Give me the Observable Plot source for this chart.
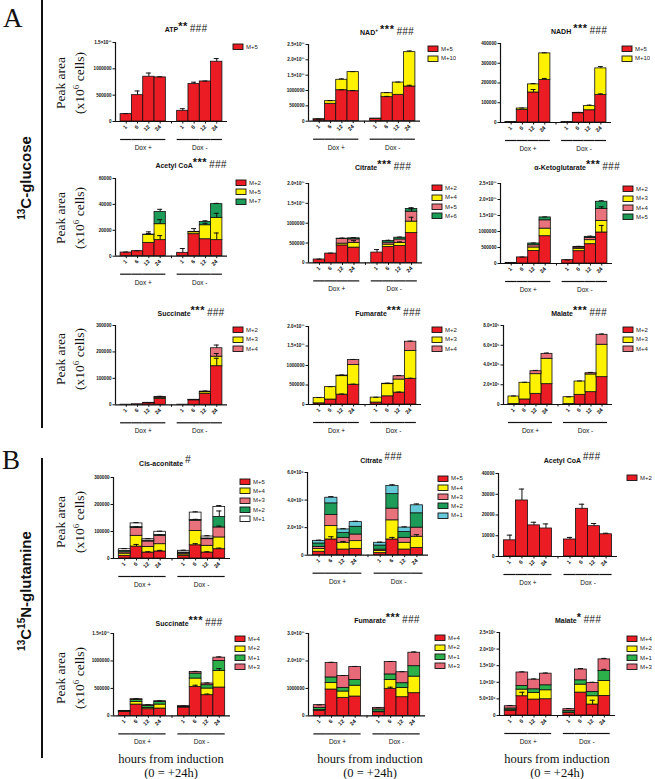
<!DOCTYPE html>
<html>
<head>
<meta charset="utf-8">
<script src="https://cdn.jsdelivr.net/npm/d3@7"></script>
<script src="https://cdn.jsdelivr.net/npm/@observablehq/plot@0.6"></script>
<style>
  html,body{margin:0;padding:0;background:#fff;}
  #fig{position:relative;width:655px;height:779px;overflow:hidden;background:#fff;font-family:"Liberation Sans",Arial,sans-serif;}
  .title{position:absolute;width:220px;text-align:center;font-size:7px;font-weight:bold;white-space:nowrap;line-height:12px;color:#111;}
  .title .st{font-size:11px;position:relative;top:-2px;letter-spacing:0.5px;}
  .title .hs{font-size:10px;font-style:italic;font-weight:normal;letter-spacing:0.3px;}
  .title sup{font-size:5px;}
  .ylab{position:absolute;transform:translate(-50%,-50%) rotate(-90deg);font-family:"Liberation Serif","Times New Roman",serif;font-size:13.5px;line-height:15.5px;text-align:center;white-space:nowrap;color:#111;}
  .ylab sup{font-size:9px;}
  .sect{position:absolute;transform:translate(-50%,-50%) rotate(-90deg);font-weight:bold;font-size:15px;white-space:nowrap;color:#111;}
  .sect sup{font-size:10px;}
  .big{position:absolute;font-family:"Liberation Serif","Times New Roman",serif;font-size:27px;line-height:27px;color:#111;}
  .vline{position:absolute;left:40.5px;width:2px;background:#111;}
  .hours{position:absolute;width:200px;text-align:center;font-family:"Liberation Serif","Times New Roman",serif;font-size:12.5px;line-height:14px;color:#111;white-space:nowrap;}
  .lgwrap{position:absolute;width:40px;white-space:nowrap;}
  .lgwrap .lg-swatches{margin:0 !important;font-size:6px !important;font-family:"Liberation Sans",Arial,sans-serif !important;min-height:0 !important;color:#222;}
  .lgwrap .lg-swatch{padding-bottom:0 !important;height:9.3px;display:flex;align-items:center;margin:0 !important;}
  .lgwrap .lg-swatch::before{content:none !important;}
  .lgwrap .lg-swatch > svg{margin-right:3px !important;overflow:visible;}
  .lgwrap .lg-swatch svg rect{stroke:#111;stroke-width:0.9px;}
</style>
</head>
<body>
<div id="fig"></div>
<script>
// ---------- shared categories ----------
const hours = ["1", "6", "12", "24"];
const groups = ["Dox +", "Dox -"];

// ---------- colours ----------
const RED = "#ec1c24", YEL = "#fff200", PINK = "#e8737c", GRN = "#1c9c58", GRN2 = "#2bb04a", CYAN = "#66c9d9", WHITE = "#ffffff", PINK2 = "#e86a79";

// ---------- Panel A: 13C-glucose ----------
const ATP_series = ["M+5"];
const ATP_M5 = [140000, 500000, 850000, 837000, 203000, 711000, 760000, 1135000];
const ATP_err5 = [10000, 80000, 70000, 12000, 40000, 35000, 8000, 60000];
const ATP_ticks = [0, 500000, 1000000, 1500000];
const ATP_tickLabels = ["0", "500000", "1000000", "1.5×10¹¹"];

const NAD_series = ["M+5", "M+10"];
const NAD_M5 = [55000, 567000, 1010000, 978000, 78000, 783000, 860000, 1130000];
const NAD_M10 = [10000, 85000, 340000, 622000, 5000, 130000, 400000, 1120000];
const NAD_err5 = [0, 0, 15000, 20000, 0, 25000, 0, 40000];
const NAD_err10 = [5000, 20000, 30000, 15000, 0, 20000, 15000, 40000];
const NAD_ticks = [0, 500000, 1000000, 1500000, 2000000, 2500000];
const NAD_tickLabels = ["0", "500000", "1000000", "1.5×10¹¹", "2.0×10¹¹", "2.5×10¹¹"];

const NADH_series = ["M+5", "M+10"];
const NADH_M5 = [2500, 63000, 152000, 215000, 1500, 47000, 62000, 139000];
const NADH_M10 = [500, 8000, 41000, 135000, 500, 2000, 21000, 135000];
const NADH_err5 = [0, 0, 15000, 8000, 0, 0, 0, 6000];
const NADH_err10 = [0, 2000, 4000, 3000, 0, 2000, 5000, 9000];
const NADH_ticks = [0, 100000, 200000, 300000, 400000];
const NADH_tickLabels = ["0", "100000", "200000", "300000", "400000"];

const ACA_series = ["M+2", "M+5", "M+7"];
const ACA_M2 = [2800, 3900, 10300, 12400, 2600, 17000, 13100, 12400];
const ACA_M5 = [0, 0, 6000, 12300, 0, 1500, 10800, 17200];
const ACA_M7 = [0, 0, 400, 9500, 0, 300, 2600, 10600];
const ACA_err2 = [0, 0, 0, 3500, 3300, 0, 0, 5500];
const ACA_err5 = [0, 0, 2500, 3500, 0, 0, 1500, 3500];
const ACA_err7 = [400, 300, 800, 2000, 0, 2500, 800, 600];
const ACA_ticks = [0, 20000, 40000, 60000];
const ACA_tickLabels = ["0", "20000", "40000", "60000"];

const CITA_series = ["M+2", "M+4", "M+5", "M+6"];
const CITA_M2 = [85000, 235000, 440000, 385000, 260000, 400000, 425000, 750000];
const CITA_M4 = [0, 0, 45000, 115000, 0, 60000, 75000, 290000];
const CITA_M5 = [0, 0, 115000, 92000, 0, 50000, 90000, 250000];
const CITA_M6 = [0, 0, 10000, 28000, 0, 40000, 45000, 70000];
const CITA_err2 = [0, 0, 0, 0, 75000, 0, 0, 0];
const CITA_err4 = [0, 0, 0, 60000, 0, 0, 30000, 110000];
const CITA_err5 = [0, 0, 0, 0, 0, 0, 0, 70000];
const CITA_err6 = [10000, 10000, 15000, 15000, 0, 20000, 15000, 30000];
const CITA_ticks = [0, 500000, 1000000, 1500000, 2000000];
const CITA_tickLabels = ["0", "500000", "1000000", "1.5×10¹¹", "2.0×10¹¹"];

const AKG_series = ["M+2", "M+3", "M+4", "M+5"];
const AKG_M2 = [20000, 190000, 394000, 853000, 105000, 385000, 604000, 969000];
const AKG_M3 = [0, 0, 106000, 237000, 0, 75000, 125000, 361000];
const AKG_M4 = [0, 0, 70000, 260000, 0, 40000, 71000, 370000];
const AKG_M5 = [0, 0, 55000, 90000, 0, 20000, 33000, 230000];
const AKG_err2 = [0, 0, 0, 0, 0, 0, 0, 220000];
const AKG_err4 = [0, 0, 0, 0, 0, 0, 0, 70000];
const AKG_err5 = [5000, 10000, 15000, 15000, 5000, 15000, 20000, 30000];
const AKG_ticks = [0, 500000, 1000000, 1500000, 2000000, 2500000];
const AKG_tickLabels = ["0", "500000", "1000000", "1.5×10¹¹", "2.0×10¹¹", "2.5×10¹¹"];

const SUCA_series = ["M+2", "M+3", "M+4"];
const SUCA_M2 = [500, 2000, 6000, 22600, 500, 17000, 41500, 146000];
const SUCA_M3 = [0, 0, 1000, 4000, 0, 1500, 6000, 36000];
const SUCA_M4 = [0, 0, 500, 3400, 0, 500, 2500, 32000];
const SUCA_err2 = [0, 0, 0, 0, 0, 0, 0, 30000];
const SUCA_err3 = [0, 0, 0, 0, 0, 0, 0, 12000];
const SUCA_err4 = [0, 0, 500, 2000, 0, 1000, 2000, 12000];
const SUCA_ticks = [0, 100000, 200000, 300000];
const SUCA_tickLabels = ["0", "100000", "200000", "300000"];

const FUMA_series = ["M+2", "M+3", "M+4"];
const FUMA_M2 = [30000, 127000, 253000, 506000, 50000, 210000, 304000, 658000];
const FUMA_M3 = [140000, 319000, 474000, 504000, 127000, 312000, 336000, 717000];
const FUMA_M4 = [0, 0, 15000, 130000, 0, 10000, 84000, 235000];
const FUMA_err2 = [0, 0, 15000, 15000, 0, 0, 15000, 15000];
const FUMA_err4 = [8000, 10000, 15000, 15000, 8000, 15000, 20000, 15000];
const FUMA_ticks = [0, 500000, 1000000, 1500000, 2000000];
const FUMA_tickLabels = ["0", "500000", "1000000", "1.5×10¹¹", "2.0×10¹¹"];

const MALA_series = ["M+2", "M+3", "M+4"];
const MALA_M2 = [5000, 51000, 108000, 206000, 5000, 98000, 125000, 277000];
const MALA_M3 = [76000, 169000, 199000, 257000, 69000, 135000, 179000, 328000];
const MALA_M4 = [0, 0, 30000, 50000, 0, 0, 13000, 101000];
const MALA_err4 = [5000, 5000, 8000, 8000, 3000, 5000, 8000, 8000];
const MALA_ticks = [0, 200000, 400000, 600000, 800000];
const MALA_tickLabels = ["0", "2.0×10⁵", "4.0×10⁵", "6.0×10⁵", "8.0×10⁵"];

// ---------- Panel B: 13C15N-glutamine ----------
const CIS_series = ["M+5", "M+4", "M+3", "M+2", "M+1"];
const CIS_M5 = [10000, 44000, 22000, 26000, 10000, 49000, 22000, 34500];
const CIS_M4 = [8000, 40000, 21000, 27000, 5000, 53000, 25000, 43500];
const CIS_M3 = [5000, 29000, 20000, 31000, 4000, 38000, 24500, 37000];
const CIS_M2 = [5000, 3000, 3000, 3000, 3000, 3000, 2500, 39000];
const CIS_M1 = [6500, 14000, 5500, 12000, 6500, 27000, 7500, 37000];
const CIS_err5 = [0, 8000, 3000, 4000, 0, 6000, 3000, 4000];
const CIS_err3 = [0, 5000, 0, 4000, 0, 5000, 3000, 5000];
const CIS_err2 = [0, 0, 0, 0, 0, 0, 0, 22000];
const CIS_err1 = [2000, 3000, 2000, 2000, 2000, 3000, 3000, 5000];
const CIS_ticks = [0, 100000, 200000, 300000];
const CIS_tickLabels = ["0", "100000", "200000", "300000"];

const CITB_series = ["M+5", "M+4", "M+3", "M+2", "M+1"];
const CITB_M5 = [250000, 1140000, 410000, 460000, 150000, 1140000, 410000, 530000];
const CITB_M4 = [200000, 970000, 490000, 560000, 150000, 1390000, 490000, 810000];
const CITB_M3 = [150000, 800000, 360000, 480000, 100000, 850000, 360000, 660000];
const CITB_M2 = [250000, 850000, 360000, 560000, 300000, 1050000, 420000, 1040000];
const CITB_M1 = [190000, 410000, 250000, 340000, 200000, 600000, 320000, 580000];
const CITB_err5 = [0, 200000, 0, 0, 0, 150000, 0, 0];
const CITB_err4 = [0, 0, 100000, 0, 0, 0, 0, 150000];
const CITB_err1 = [50000, 80000, 50000, 60000, 50000, 80000, 60000, 100000];
const CITB_ticks = [0, 2000000, 4000000, 6000000];
const CITB_tickLabels = ["0", "2.0×10⁶", "4.0×10⁶", "6.0×10⁶"];

const ACB_series = ["M+2"];
const ACB_M2 = [7800, 27000, 15000, 13500, 8200, 23000, 14600, 10700];
const ACB_err2 = [2500, 5500, 1500, 2200, 1000, 2200, 1300, 500];
const ACB_ticks = [0, 10000, 20000, 30000, 40000];
const ACB_tickLabels = ["0", "10000", "20000", "30000", "40000"];

const SUCB_series = ["M+4", "M+2", "M+1", "M+3"];
const SUCB_M4 = [73000, 206000, 122000, 134000, 152000, 528000, 377000, 516000];
const SUCB_M2 = [6000, 49000, 24000, 72000, 8000, 152000, 121000, 304000];
const SUCB_M1 = [7000, 35000, 34000, 49000, 10000, 90000, 61000, 180000];
const SUCB_M3 = [5000, 14000, 15000, 12000, 6000, 30000, 31000, 60000];
const SUCB_err4 = [0, 0, 0, 0, 0, 30000, 20000, 0];
const SUCB_err2 = [0, 0, 0, 0, 0, 0, 0, 40000];
const SUCB_err3 = [3000, 8000, 8000, 8000, 5000, 10000, 10000, 15000];
const SUCB_ticks = [0, 500000, 1000000, 1500000];
const SUCB_tickLabels = ["0", "500000", "1000000", "1.5×10¹¹"];

const FUMB_series = ["M+4", "M+2", "M+1", "M+3"];
const FUMB_M4 = [182000, 960000, 657000, 705000, 134000, 985000, 681000, 827000];
const FUMB_M2 = [30000, 240000, 230000, 395000, 20000, 325000, 339000, 603000];
const FUMB_M1 = [80000, 200000, 133000, 210000, 80000, 200000, 170000, 380000];
const FUMB_M3 = [100000, 530000, 430000, 470000, 58000, 450000, 400000, 490000];
const FUMB_err4 = [0, 0, 0, 0, 0, 60000, 0, 0];
const FUMB_err3 = [10000, 20000, 20000, 20000, 10000, 20000, 20000, 30000];
const FUMB_ticks = [0, 1000000, 2000000, 3000000];
const FUMB_tickLabels = ["0", "1000000", "2.0×10¹¹", "3.0×10¹¹"];

const MALB_series = ["M+4", "M+2", "M+1", "M+3"];
const MALB_M4 = [1400000, 5800000, 4800000, 4900000, 800000, 6900000, 3300000, 5900000];
const MALB_M2 = [200000, 2000000, 2000000, 2700000, 100000, 2400000, 2500000, 4500000];
const MALB_M1 = [500000, 1100000, 1100000, 1500000, 500000, 1300000, 1300000, 3000000];
const MALB_M3 = [700000, 4050000, 2900000, 3500000, 500000, 3250000, 2700000, 3500000];
const MALB_err4 = [0, 1200000, 0, 0, 0, 0, 1300000, 0];
const MALB_err1 = [0, 0, 0, 0, 0, 0, 0, 500000];
const MALB_err3 = [200000, 200000, 200000, 200000, 200000, 300000, 200000, 300000];
const MALB_ticks = [0, 5000000, 10000000, 15000000, 20000000, 25000000];
const MALB_tickLabels = ["0", "5.0×10⁶", "1.0×10⁷", "1.5×10⁷", "2.0×10⁷", "2.5×10⁷"];

const Z8 = [0, 0, 0, 0, 0, 0, 0, 0];

// ---------- panel layout (positions only) ----------
const panels = [
  {title:'ATP<span class="st">**</span> <span class="hs">###</span>', tx:186, ty:28, ax:115, right:227, topY:41.7, baseY:120.7, lx:233, ly:47,
   series:ATP_series, colors:[RED], values:[ATP_M5], errs:[ATP_err5], ticks:ATP_ticks, labels:ATP_tickLabels},
  {title:'NAD<sup>+</sup> <span class="st">***</span> <span class="hs">###</span>', tx:387, ty:30, ax:308, right:420, topY:44, baseY:120.7, lx:428, ly:49,
   series:NAD_series, colors:[RED, YEL], values:[NAD_M5, NAD_M10], errs:[NAD_err5, NAD_err10], ticks:NAD_ticks, labels:NAD_tickLabels},
  {title:'NADH <span class="st">***</span> <span class="hs">###</span>', tx:579, ty:30, ax:500, right:611, topY:43.3, baseY:122.3, lx:622, ly:49,
   series:NADH_series, colors:[RED, YEL], values:[NADH_M5, NADH_M10], errs:[NADH_err5, NADH_err10], ticks:NADH_ticks, labels:NADH_tickLabels},
  {title:'Acetyl CoA<span class="st">***</span> <span class="hs">###</span>', tx:191, ty:164, ax:115, right:227, topY:178.3, baseY:256, lx:236, ly:182.7,
   series:ACA_series, colors:[RED, YEL, GRN], values:[ACA_M2, ACA_M5, ACA_M7], errs:[ACA_err2, ACA_err5, ACA_err7], ticks:ACA_ticks, labels:ACA_tickLabels},
  {title:'Citrate<span class="st">***</span> <span class="hs">###</span>', tx:383, ty:166, ax:308, right:422, topY:183.3, baseY:262.7, lx:432, ly:188,
   series:CITA_series, colors:[RED, YEL, PINK, GRN], values:[CITA_M2, CITA_M4, CITA_M5, CITA_M6], errs:[CITA_err2, CITA_err4, CITA_err5, CITA_err6], ticks:CITA_ticks, labels:CITA_tickLabels},
  {title:'α-Ketoglutarate<span class="st">***</span> <span class="hs">###</span>', tx:577, ty:166, ax:500, right:612, topY:183.3, baseY:263.3, lx:623, ly:189,
   series:AKG_series, colors:[RED, YEL, PINK, GRN], values:[AKG_M2, AKG_M3, AKG_M4, AKG_M5], errs:[AKG_err2, Z8, AKG_err4, AKG_err5], ticks:AKG_ticks, labels:AKG_tickLabels},
  {title:'Succinate<span class="st">***</span> <span class="hs">###</span>', tx:191, ty:312, ax:115, right:227, topY:325, baseY:404.3, lx:233, ly:330,
   series:SUCA_series, colors:[RED, YEL, PINK], values:[SUCA_M2, SUCA_M3, SUCA_M4], errs:[SUCA_err2, SUCA_err3, SUCA_err4], ticks:SUCA_ticks, labels:SUCA_tickLabels},
  {title:'Fumarate<span class="st">***</span> <span class="hs">###</span>', tx:388, ty:312, ax:308, right:421, topY:326, baseY:404, lx:432, ly:330,
   series:FUMA_series, colors:[RED, YEL, PINK], values:[FUMA_M2, FUMA_M3, FUMA_M4], errs:[FUMA_err2, Z8, FUMA_err4], ticks:FUMA_ticks, labels:FUMA_tickLabels},
  {title:'Malate<span class="st">***</span> <span class="hs">###</span>', tx:579, ty:312, ax:503, right:612, topY:325, baseY:404, lx:623, ly:330,
   series:MALA_series, colors:[RED, YEL, PINK], values:[MALA_M2, MALA_M3, MALA_M4], errs:[Z8, Z8, MALA_err4], ticks:MALA_ticks, labels:MALA_tickLabels},
  {title:'Cis-aconitate <span class="hs" style="position:relative;top:-3px">#</span>', tx:165, ty:463, ax:113, right:230, topY:476.7, baseY:557.7, lx:240, ly:481.7,
   series:CIS_series, colors:[RED, YEL, PINK, GRN, WHITE], values:[CIS_M5, CIS_M4, CIS_M3, CIS_M2, CIS_M1], errs:[CIS_err5, Z8, CIS_err3, CIS_err2, CIS_err1], ticks:CIS_ticks, labels:CIS_tickLabels},
  {title:'Citrate <span class="hs" style="position:relative;top:-3px">###</span>', tx:381, ty:460, ax:307, right:428, topY:472.3, baseY:555, lx:438, ly:478.3,
   series:CITB_series, colors:[RED, YEL, PINK, GRN, CYAN], values:[CITB_M5, CITB_M4, CITB_M3, CITB_M2, CITB_M1], errs:[CITB_err5, CITB_err4, Z8, Z8, CITB_err1], ticks:CITB_ticks, labels:CITB_tickLabels},
  {title:'Acetyl CoA <span class="hs" style="position:relative;top:-3px">###</span>', tx:572, ty:460, ax:498, right:617, topY:472.7, baseY:555.7, lx:627, ly:478,
   series:ACB_series, colors:[RED], values:[ACB_M2], errs:[ACB_err2], ticks:ACB_ticks, labels:ACB_tickLabels},
  {title:'Succinate<span class="st">***</span> <span class="hs">###</span>', tx:189, ty:622, ax:113, right:230, topY:633.3, baseY:715.7, lx:235, ly:639,
   series:SUCB_series, colors:[RED, YEL, GRN2, PINK2], values:[SUCB_M4, SUCB_M2, SUCB_M1, SUCB_M3], errs:[SUCB_err4, SUCB_err2, Z8, SUCB_err3], ticks:SUCB_ticks, labels:SUCB_tickLabels},
  {title:'Fumarate<span class="st">***</span> <span class="hs">###</span>', tx:387, ty:619, ax:308, right:425, topY:633.3, baseY:715.7, lx:435, ly:638,
   series:FUMB_series, colors:[RED, YEL, GRN2, PINK2], values:[FUMB_M4, FUMB_M2, FUMB_M1, FUMB_M3], errs:[FUMB_err4, Z8, Z8, FUMB_err3], ticks:FUMB_ticks, labels:FUMB_tickLabels},
  {title:'Malate<span class="st">*</span> <span class="hs">###</span>', tx:578, ty:619, ax:499, right:615, topY:632.3, baseY:715.3, lx:627, ly:639,
   series:MALB_series, colors:[RED, YEL, GRN2, PINK2], values:[MALB_M4, MALB_M2, MALB_M1, MALB_M3], errs:[MALB_err4, Z8, MALB_err1, MALB_err3], ticks:MALB_ticks, labels:MALB_tickLabels}
];

const fig = document.getElementById("fig");
const FONT = '"Liberation Sans", Arial, sans-serif';
const ML = 36, MR = 4, MT = 8, MB = 36, PO = 0.45;

function addDiv(cls, html, style) {
  const d = document.createElement("div");
  d.className = cls;
  d.innerHTML = html;
  Object.assign(d.style, style);
  fig.appendChild(d);
  return d;
}

function drawPanel(p) {
  const keysAll = [];
  groups.forEach((g, gi) => { if (gi) keysAll.push("gap"); hours.forEach(h => keysAll.push(g + "|" + h)); });
  const barKeys = keysAll.filter(k => k !== "gap");
  const rows = [], errs = [];
  const cum = barKeys.map(() => 0);
  p.series.forEach((s, si) => {
    p.values[si].forEach((v, i) => {
      if (v > 0) rows.push({key: barKeys[i], series: s, value: v});
      cum[i] += v;
      const e = p.errs[si] ? p.errs[si][i] : 0;
      if (e > 0) errs.push({key: barKeys[i], y1: cum[i], y2: cum[i] + e});
    });
  });
  const innerW = p.right - p.ax;
  const bw = innerW / (keysAll.length + 2 * PO);
  const W = ML + innerW + MR;
  const H = MT + (p.baseY - p.topY) + MB;
  const yMax = p.ticks[p.ticks.length - 1];
  const labelMap = new Map(p.ticks.map((t, i) => [t, p.labels[i]]));
  const doxRows = barKeys.map(k => ({key: k}));
  const doxLabels = groups.map(g => ({key: g + "|12", text: g}));
  const chart = Plot.plot({
    width: W, height: H,
    marginLeft: ML, marginRight: MR, marginTop: MT, marginBottom: MB,
    style: {background: "none", overflow: "visible", fontFamily: FONT, color: "#111"},
    x: {domain: keysAll, paddingInner: 0, paddingOuter: PO, round: false, axis: null},
    y: {domain: [0, yMax], axis: null},
    color: {domain: p.series, range: p.colors},
    marks: [
      Plot.barY(rows, {x: "key", y: "value", fill: "series", stroke: "#111", strokeWidth: 0.8}),
      Plot.ruleX(errs, {x: "key", y1: "y1", y2: "y2", stroke: "#111", strokeWidth: 1}),
      Plot.tickY(errs, {x: "key", y: "y2", stroke: "#111", strokeWidth: 1, insetLeft: bw * 0.28, insetRight: bw * 0.28}),
      Plot.ruleY([0], {stroke: "#111", strokeWidth: 1.2}),
      Plot.ruleX([keysAll[0]], {y1: 0, y2: yMax, dx: -bw * (0.5 + PO), stroke: "#111", strokeWidth: 1.2}),
      Plot.axisY({ticks: p.ticks, tickFormat: d => labelMap.get(d), tickSize: 2.5, tickPadding: 1.5, fontSize: 4.6, fontWeight: "bold", label: null, anchor: "left"}),
      Plot.axisX({tickFormat: k => k === "gap" ? "" : k.split("|")[1], tickSize: 2.5, tickRotate: -45, fontSize: 5.5, fontWeight: "bold", label: null, tickPadding: 2}),
      Plot.tickY(doxRows, {x: "key", y: 0, dy: 18, stroke: "#111", strokeWidth: 1.2}),
      Plot.text(doxLabels, {x: "key", y: 0, text: "text", dy: 26.5, dx: -bw / 2, fontSize: 6.5})
    ]
  });
  chart.style.position = "absolute";
  chart.style.left = (p.ax - ML) + "px";
  chart.style.top = (p.topY - MT) + "px";
  chart.style.maxWidth = "none";
  fig.appendChild(chart);

  // title
  addDiv("title", p.title, {left: (p.tx - 110) + "px", top: (p.ty - 6) + "px"});

  // legend
  const lg = Plot.legend({color: {domain: p.series, range: p.colors}, columns: 1, swatchWidth: 10, swatchHeight: 5.5, className: "lg"});
  const wrap = document.createElement("div");
  wrap.className = "lgwrap";
  wrap.style.left = p.lx + "px";
  wrap.style.top = (p.ly - 4.65) + "px";
  wrap.appendChild(lg);
  fig.appendChild(wrap);
}

panels.forEach(drawPanel);

// ---------- decorations ----------
addDiv("big", "A", {left: "3px", top: "5px"});
addDiv("big", "B", {left: "2px", top: "447px"});
addDiv("vline", "", {top: "0px", height: "428px"});
addDiv("vline", "", {top: "458px", height: "300px"});
addDiv("sect", "<sup>13</sup>C-glucose", {left: "25px", top: "178px"});
addDiv("sect", "<sup>13</sup>C<sup>15</sup>N-glutamine", {left: "25px", top: "591px"});

const ylabHTML = "Peak area<br>(x10<sup>6</sup> cells)";
[83, 218, 359, 522, 678].forEach(cy => addDiv("ylab", ylabHTML, {left: "69.5px", top: cy + "px"}));

[171, 370, 557].forEach(cx => {
  addDiv("hours", "hours from induction", {left: (cx - 100) + "px", top: "752px"});
  addDiv("hours", "(0 = +24h)", {left: (cx - 100) + "px", top: "766px"});
});
</script>
</body>
</html>
